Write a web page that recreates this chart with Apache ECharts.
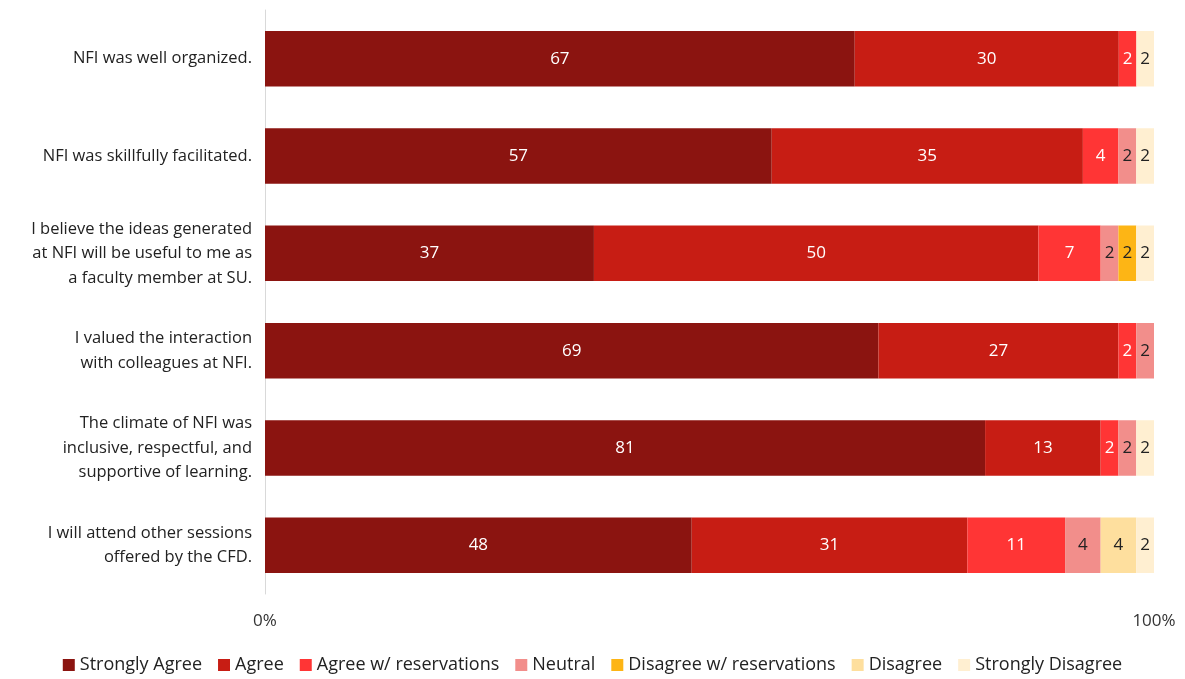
<!DOCTYPE html>
<html>
<head>
<meta charset="utf-8">
<script src="https://cdn.jsdelivr.net/npm/echarts@6/dist/echarts.min.js"></script>
<style>
html,body{margin:0;padding:0;background:#fff;}
#chart{width:1185px;height:679px;}
</style>
</head>
<body>
<div id="chart"></div>
<script>
const categories = [
  "NFI was well organized.",
  "NFI was skillfully facilitated.",
  "I believe the ideas generated\nat NFI will be useful to me as\na faculty member at SU.",
  "I valued the interaction\nwith colleagues at NFI.",
  "The climate of NFI was\ninclusive, respectful, and\nsupportive of learning.",
  "I will attend other sessions\noffered by the CFD."
];
const seriesNames = ["Strongly Agree","Agree","Agree w/ reservations","Neutral","Disagree w/ reservations","Disagree","Strongly Disagree"];
const stronglyAgree = [67, 57, 37, 69, 81, 48];
const agree = [30, 35, 50, 27, 13, 31];
const agreeRes = [2, 4, 7, 2, 2, 11];
const neutral = [0, 2, 2, 2, 2, 4];
const disagreeRes = [0, 0, 2, 0, 0, 0];
const disagree = [0, 0, 0, 0, 0, 4];
const stronglyDisagree = [2, 2, 2, 0, 2, 2];
const xTickLabels = ["0%", "100%"];

const colors = ["#8B1410","#C71D14","#FF3535","#F28E8B","#FDB515","#FEDF9E","#FFEFD1"];
const labelColors = ["#fff","#fff","#fff","#222","#222","#222","#222"];
const allSeries = [stronglyAgree, agree, agreeRes, neutral, disagreeRes, disagree, stronglyDisagree];
const totals = categories.map((c,i)=>allSeries.reduce((s,a)=>s+a[i],0));

const FONT = "'Open Sans', 'Noto Sans', sans-serif";
const chart = echarts.init(document.getElementById('chart'));
chart.setOption({
  animation:false,
  textStyle:{fontFamily:FONT},
  grid:{left:265, right:31, top:10, bottom:85, containLabel:false},
  legend:{
    bottom:0, left:'center', itemWidth:12, itemHeight:12, itemGap:16,
    icon:'rect',
    textStyle:{fontSize:18, color:'#222', fontFamily:FONT},
    data:seriesNames
  },
  xAxis:{
    type:'value', min:0, max:100, interval:100,
    axisLine:{show:false}, axisTick:{show:false}, splitLine:{show:false},
    axisLabel:{fontSize:17, color:'#333', margin:19,
      formatter:(v)=> v===0 ? xTickLabels[0] : xTickLabels[1]}
  },
  yAxis:{
    type:'category', data:categories, inverse:true,
    axisLine:{show:true, lineStyle:{color:'#d9d9d9', width:1}},
    axisTick:{show:false},
    axisLabel:{fontSize:16.5, color:'#222', margin:13, lineHeight:24.5, align:'right'}
  },
  series: allSeries.map((arr, k)=>({
    name: seriesNames[k],
    type:'bar', stack:'total',
    barCategoryGap:'43%',
    itemStyle:{color:colors[k]},
    label:{
      show:true, position:'inside', color:labelColors[k], fontSize:17, fontFamily:FONT,
      formatter:(p)=> arr[p.dataIndex] ? String(arr[p.dataIndex]) : ''
    },
    data: arr.map((v,i)=> v===0 ? null : v/totals[i]*100)
  }))
});
</script>
</body>
</html>
